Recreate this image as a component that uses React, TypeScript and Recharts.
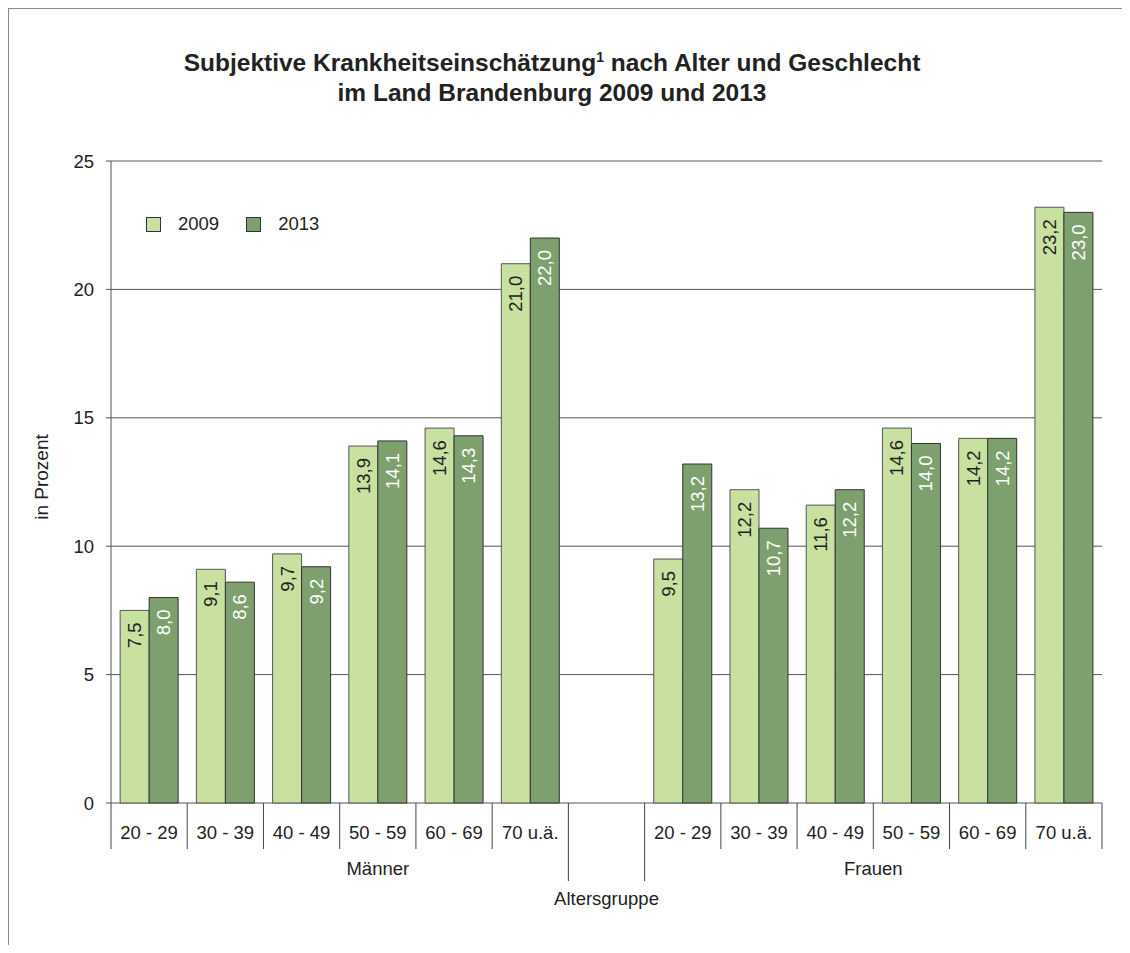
import { BarChart, Bar, XAxis, YAxis, CartesianGrid, Legend, LabelList } from 'recharts';

const AGE_GROUPS = ['20 - 29', '30 - 39', '40 - 49', '50 - 59', '60 - 69', '70 u.ä.'];
const MEN_2009 = [7.5, 9.1, 9.7, 13.9, 14.6, 21.0];
const MEN_2013 = [8.0, 8.6, 9.2, 14.1, 14.3, 22.0];
const WOMEN_2009 = [9.5, 12.2, 11.6, 14.6, 14.2, 23.2];
const WOMEN_2013 = [13.2, 10.7, 12.2, 14.0, 14.2, 23.0];
const Y_TICKS = [0, 5, 10, 15, 20, 25];

const LIGHT = '#c8e0a0';
const DARK = '#7ea06e';
const FONT = '"Liberation Sans", Arial, sans-serif';

// men, one empty slot, women
const data = [
  ...AGE_GROUPS.map((age, i) => ({ cat: `M ${age}`, age, y2009: MEN_2009[i], y2013: MEN_2013[i] })),
  { cat: 'gap', age: '', y2009: null, y2013: null },
  ...AGE_GROUPS.map((age, i) => ({ cat: `F ${age}`, age, y2009: WOMEN_2009[i], y2013: WOMEN_2013[i] })),
];

const fmt = (v: number) => v.toFixed(1).replace('.', ',');

const CategoryTick = (props: any) => {
  const { x, y, payload, index } = props;
  const i = index ?? payload?.index ?? 0;
  const half = payload?.offset || 38;
  const row = data[i];
  const longLeft = i === 6 || i === 7;
  return (
    <g>
      <line x1={x - half} x2={x - half} y1={y} y2={y + (longLeft ? 78 : 46)} stroke="#444" />
      {i === data.length - 1 && <line x1={x + half} x2={x + half} y1={y} y2={y + 46} stroke="#444" />}
      {row?.age && (
        <text x={x} y={y + 36} textAnchor="middle" fill="#222" fontSize={18.5} fontFamily={FONT}>
          {row.age}
        </text>
      )}
      {i === 3 && (
        <text x={x} y={y + 72} textAnchor="middle" fill="#222" fontSize={18.5} fontFamily={FONT}>
          Männer
        </text>
      )}
      {i === 9 && (
        <text x={x + half} y={y + 72} textAnchor="middle" fill="#222" fontSize={18.5} fontFamily={FONT}>
          Frauen
        </text>
      )}
    </g>
  );
};

const barLabel = (color: string) => (props: any) => {
  const { x, y, width, value } = props;
  if (value == null) return null;
  const cx = x + width / 2;
  const ty = y + 12;
  return (
    <text
      x={cx}
      y={ty}
      transform={`rotate(-90, ${cx}, ${ty})`}
      textAnchor="end"
      dominantBaseline="central"
      fill={color}
      fontSize={18.5}
      fontFamily={FONT}
    >
      {fmt(value)}
    </text>
  );
};

const LegendBox = () => (
  <div style={{ display: 'flex', alignItems: 'center', fontFamily: FONT, fontSize: 18.5, color: '#222' }}>
    {[
      { name: '2009', color: LIGHT },
      { name: '2013', color: DARK },
    ].map((s, i) => (
      <div key={s.name} style={{ display: 'flex', alignItems: 'center', marginLeft: i ? 27 : 0 }}>
        <span style={{ width: 13, height: 13, background: s.color, border: '1px solid #333', marginRight: 17 }} />
        <span>{s.name}</span>
      </div>
    ))}
  </div>
);

export default function App() {
  return (
    <div
      style={{
        position: 'relative',
        width: 1113,
        height: 936,
        borderTop: '1px solid #8c8c8c',
        borderLeft: '1px solid #8c8c8c',
        fontFamily: FONT,
        color: '#222',
      }}
    >
      <div
        style={{
          position: 'absolute',
          top: 39,
          left: 0,
          width: 1086,
          textAlign: 'center',
          fontWeight: 'bold',
          fontSize: 24.5,
          lineHeight: '30px',
        }}
      >
        <div>
          Subjektive Krankheitseinschätzung<sup style={{ fontSize: 14, lineHeight: 0 }}>1</sup> nach Alter und Geschlecht
        </div>
        <div>im Land Brandenburg 2009 und 2013</div>
      </div>
      <div
        style={{
          position: 'absolute',
          left: 33 - 60,
          top: 468 - 12,
          width: 120,
          textAlign: 'center',
          fontSize: 19,
          lineHeight: '24px',
          transform: 'rotate(-90deg)',
        }}
      >
        in Prozent
      </div>
      <BarChart
        width={1113}
        height={936}
        data={data}
        margin={{ top: 152, right: 20, left: 42, bottom: 32 }}
        barCategoryGap="12%"
        barGap={0}
      >
        <CartesianGrid horizontal vertical={false} stroke="#555" />
        <XAxis
          dataKey="cat"
          interval={0}
          height={110}
          axisLine={false}
          tickLine={false}
          tickSize={0}
          tickMargin={0}
          tick={(p: any) => <CategoryTick {...p} />}
          label={{ value: 'Altersgruppe', position: 'insideBottom', offset: 8, fill: '#222', fontSize: 18.5, fontFamily: FONT }}
        />
        <YAxis
          domain={[0, 25]}
          ticks={Y_TICKS}
          interval={0}
          width={60}
          tickSize={5}
          tickMargin={12}
          axisLine={{ stroke: '#555' }}
          tickLine={{ stroke: '#555' }}
          tick={{ fill: '#222', fontSize: 18.5, fontFamily: FONT }}
        />
        <YAxis
          yAxisId="right"
          orientation="right"
          domain={[0, 25]}
          width={0}
          tick={false}
          tickLine={false}
          axisLine={{ stroke: '#555' }}
        />
        <Legend
          layout="vertical"
          verticalAlign="middle"
          align="center"
          content={() => <LegendBox />}
          wrapperStyle={{ position: 'absolute', top: 204, left: 137, width: 'auto', height: 'auto' }}
        />
        <Bar dataKey="y2009" name="2009" fill={LIGHT} stroke="#555" strokeWidth={1} isAnimationActive={false}>
          <LabelList dataKey="y2009" content={barLabel('#222')} />
        </Bar>
        <Bar dataKey="y2013" name="2013" fill={DARK} stroke="#333" strokeWidth={1} isAnimationActive={false}>
          <LabelList dataKey="y2013" content={barLabel('#ffffff')} />
        </Bar>
      </BarChart>
    </div>
  );
}
